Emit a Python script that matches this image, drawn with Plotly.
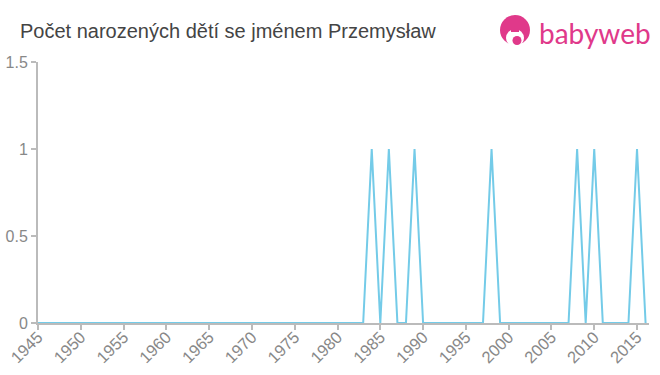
import plotly.graph_objects as go

years = list(range(1945, 2017))
peak_years = [1984, 1986, 1989, 1998, 2008, 2010, 2015]
counts = [1 if y in peak_years else 0 for y in years]

x_ticks = list(range(1945, 2016, 5))
y_ticks = [0, 0.5, 1, 1.5]
y_tick_labels = ["0", "0.5", "1", "1.5"]

title_text = "Počet narozených dětí se jménem Przemysław"
logo_text = "babyweb"

L, R, T, B = 38, 11, 62, 52
W, H = 660, 375
PW, PH = W - L - R, H - T - B

def px(x):
    return (x - L) / PW

def py(y):
    return (H - B - y) / PH

fig = go.Figure()
fig.add_trace(go.Scatter(
    x=years, y=counts, mode="lines",
    line=dict(color="#74cbe8", width=2),
    hoverinfo="skip", showlegend=False,
))

pink = "#e0398a"
shapes = [
    dict(type="circle", xref="paper", yref="paper",
         x0=px(500), x1=px(530), y0=py(45), y1=py(15),
         fillcolor=pink, line=dict(width=0), layer="above"),
    dict(type="circle", xref="paper", yref="paper",
         x0=px(506), x1=px(524), y0=py(47), y1=py(29),
         fillcolor="white", line=dict(width=0), layer="above"),
    dict(type="circle", xref="paper", yref="paper",
         x0=px(512.5), x1=px(521.5), y0=py(45), y1=py(36),
         fillcolor=pink, line=dict(width=0), layer="above"),
    dict(type="rect", xref="paper", yref="paper",
         x0=px(511), x1=px(519), y0=py(32), y1=py(27),
         fillcolor=pink, line=dict(width=0), layer="above"),
]

fig.update_layout(
    width=W, height=H,
    margin=dict(l=L, r=R, t=T, b=B),
    paper_bgcolor="white", plot_bgcolor="white",
    font=dict(family="Liberation Sans, Arial, sans-serif", color="#888888", size=15),
    title=dict(text=title_text, x=20 / W, xanchor="left", y=1 - 30.5 / H, yanchor="middle",
               font=dict(size=20, color="#444444")),
    xaxis=dict(range=[1945, 2016.4], tickvals=x_ticks, tickangle=-45, automargin=False,
               showgrid=False, zeroline=False, showline=True, linecolor="#bbbbbb",
               linewidth=2, ticks="outside", tickcolor="#bbbbbb", ticklen=5, tickwidth=2,
               ticklabelstandoff=-9,
               tickfont=dict(size=16.5, color="#888888")),
    yaxis=dict(range=[0, 1.5], tickvals=y_ticks, ticktext=y_tick_labels, automargin=False,
               showgrid=False, zeroline=False, showline=True, linecolor="#bbbbbb",
               linewidth=2, ticks="outside", tickcolor="#bbbbbb", ticklen=5, tickwidth=2,
               tickfont=dict(size=16, color="#888888")),
    shapes=shapes,
    annotations=[dict(text=logo_text, xref="paper", yref="paper",
                      x=px(537), y=py(33), xanchor="left", yanchor="middle",
                      showarrow=False, font=dict(size=28, color=pink,
                                                 family="Lato, Liberation Sans, sans-serif"))],
)

fig.write_html("out.html", config={"displayModeBar": False},
               post_script="document.body.style.margin='0px';")
